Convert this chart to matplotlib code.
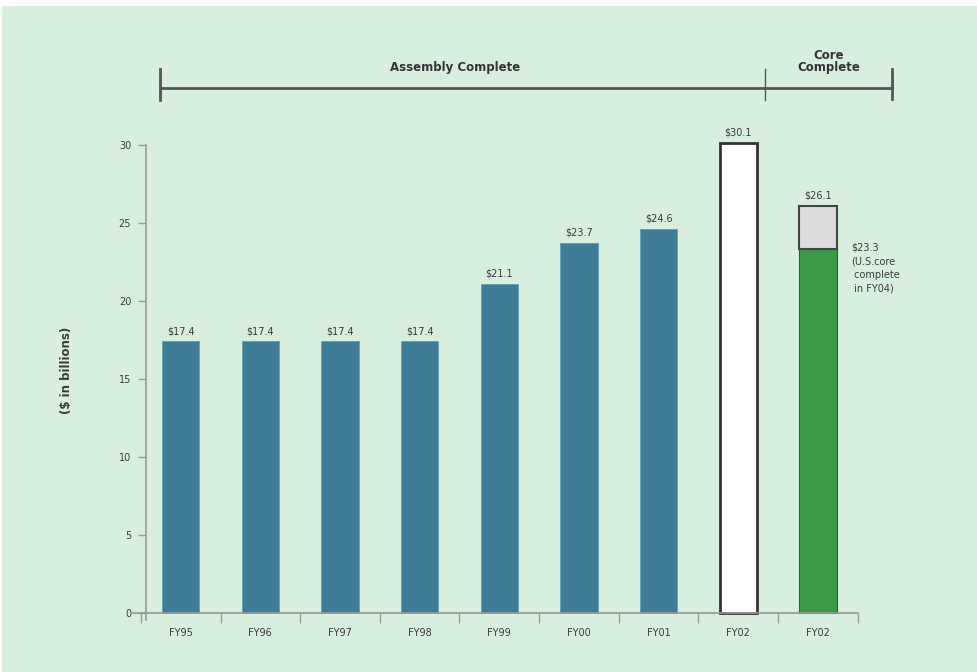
import numpy as np
import matplotlib
matplotlib.use('Agg')
import matplotlib.pyplot as plt
from matplotlib.patches import Rectangle

# funding by fiscal year, $ in billions
years = ['FY95', 'FY96', 'FY97', 'FY98', 'FY99', 'FY00', 'FY01', 'FY02', 'FY02']
assembly = [17.4, 17.4, 17.4, 17.4, 21.1, 23.7, 24.6]
fy02_assembly = 30.1
core_total = 26.1
core_us = 23.3
yticks = [0, 5, 10, 15, 20, 25, 30]

bg = '#d8efe0'
teal = '#3e7c98'
green = '#3b9a46'
txt = '#3a3a3a'

fig = plt.figure(figsize=(9.77, 6.72), dpi=100, facecolor='white')
fig.patches.append(Rectangle((0.002, 0), 1, 0.991, transform=fig.transFigure,
                             facecolor=bg, edgecolor='none', zorder=-10))
ax = fig.add_axes([0.136, 0.0774, 0.742, 0.707])
ax.set_facecolor('none')

# spines first: moving them resets the tick settings
for s in ['top', 'right']:
    ax.spines[s].set_visible(False)
ax.spines['left'].set_position(('data', -0.43))
ax.spines['bottom'].set_position(('data', 0))
for s in ['left', 'bottom']:
    ax.spines[s].set_color('#999999')
    ax.spines[s].set_linewidth(1.2)

x = np.arange(len(years))
w = 0.47
ax.bar(x[:7], assembly, width=w, color=teal, edgecolor='#5f9fb5', linewidth=0.6)
ax.bar(x[7], fy02_assembly, width=w, color='white', edgecolor='#333333', linewidth=2,
       clip_on=False)
ax.bar(x[8], core_us, width=w, color=green, edgecolor='#2f5f35', linewidth=0.8)
ax.bar(x[8], core_total - core_us, bottom=core_us, width=w, color='#dcdcdc',
       edgecolor='#444444', linewidth=1.5)

for xi, v in zip(x[:7], assembly):
    ax.text(xi, v + 0.35, f'${v}', ha='center', va='bottom', fontsize=7, color=txt)
ax.text(x[7], fy02_assembly + 0.35, f'${fy02_assembly}', ha='center', va='bottom',
        fontsize=7, color=txt, clip_on=False)
ax.text(x[8], core_total + 0.35, f'${core_total}', ha='center', va='bottom',
        fontsize=7, color=txt)
ax.text(x[8] + 0.42, core_us + 0.45, f'${core_us}\n(U.S.core\n complete\n in FY04)',
        ha='left', va='top', fontsize=7, color=txt, linespacing=1.45,
        clip_on=False)

ax.set_xlim(-0.6, 8.46)
ax.set_ylim(-0.45, 30)
ax.set_yticks(yticks)
ax.set_yticklabels([str(t) for t in yticks])
ax.set_xticks(x)
ax.set_xticklabels(years)
ax.tick_params(axis='x', which='major', length=0, pad=11, labelsize=7, labelcolor=txt)
ax.tick_params(axis='y', length=6, width=1, color='#999999', pad=5, labelsize=7,
               labelcolor=txt)
ax.set_xticks(np.arange(-0.5, 9, 1), minor=True)
ax.tick_params(axis='x', which='minor', length=7, width=1, color='#999999',
               direction='out')

ax.set_ylabel('($ in billions)', fontsize=8.5, fontweight='bold', color=txt)
ax.yaxis.set_label_coords(-0.083, 0.526)

# bracket across the top
by = 33.65
lc = '#555555'
ax.plot([-0.26, 8.93], [by, by], color=lc, lw=2, clip_on=False)
ax.plot([-0.26, -0.26], [by - 0.8, by + 1.2], color=lc, lw=2, clip_on=False)
ax.plot([7.33, 7.33], [by - 0.8, by + 1.2], color=lc, lw=1, clip_on=False)
ax.plot([8.93, 8.93], [by - 0.7, by + 1.2], color=lc, lw=2, clip_on=False)
ax.text(3.45, by + 0.9, 'Assembly Complete', ha='center', va='bottom', fontsize=8.5,
        fontweight='bold', color='#333333', clip_on=False)
ax.text(8.13, by + 0.9, 'Core\nComplete', ha='center', va='bottom', fontsize=8.5,
        fontweight='bold', color='#333333', linespacing=0.9, clip_on=False)

plt.savefig('out.png', dpi=100, facecolor=fig.get_facecolor())
